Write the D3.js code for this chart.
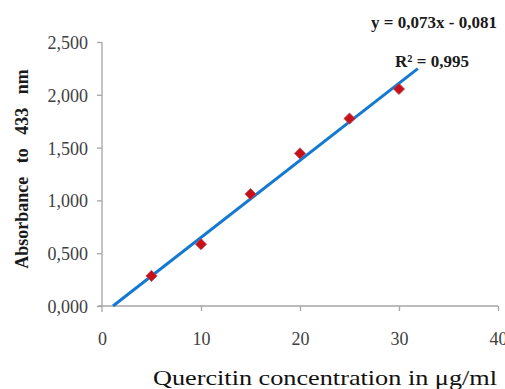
<!doctype html>
<html lang="en">
<head>
<meta charset="utf-8" />
<title>Quercitin calibration</title>
<script src="https://cdnjs.cloudflare.com/ajax/libs/d3/7.8.5/d3.min.js"></script>
<style>
	body { margin: 0; background: #fff; }
	svg { display: block; font-family: "Liberation Serif", "DejaVu Serif", serif; }
	.axis path, .axis line { stroke: #a6a6a6; stroke-width: 1.3; }
	.axis text { fill: #404040; font-size: 18px; font-family: "Liberation Serif", serif; }
</style>
</head>
<body>
<svg width="505" height="389"></svg>
<script>
// measured points
var concentration = [5, 10, 15, 20, 25, 30];
var absorbance = [0.285, 0.585, 1.06, 1.445, 1.775, 2.055];

var xTicks = [0, 10, 20, 30, 40];
var yTicks = [0, 0.5, 1, 1.5, 2, 2.5];

// linear fit y = 0,073x - 0,081, drawn from y=0 up to x=31.9
var fitSlope = 0.073;
var fitIntercept = -0.081;
var fitRange = [1.11, 31.9];

var svg = d3.select("svg");

var x = d3.scaleLinear().domain([0, 40]).range([102, 498]);
var y = d3.scaleLinear().domain([0, 2.5]).range([306, 42]);

var comma = function (v) { return d3.format(".3f")(v).replace(".", ","); };

// y axis
var yAxis = svg.append("g")
	.attr("class", "axis")
	.attr("transform", "translate(" + x(0) + ",0)")
	.call(d3.axisLeft(y).tickValues(yTicks).tickFormat(comma).tickSize(5).tickSizeOuter(0).tickPadding(9));
yAxis.select(".domain").attr("d", "M0," + y(2.5) + "V" + (y(0) + 6));
yAxis.selectAll("text").attr("dy", "0.36em");

// x axis
var xAxis = svg.append("g")
	.attr("class", "axis")
	.attr("transform", "translate(0," + y(0) + ")")
	.call(d3.axisBottom(x).tickValues(xTicks).tickSize(5).tickSizeOuter(0).tickPadding(21));
xAxis.select(".domain").attr("d", "M" + (x(0) - 4) + ",0H" + x(40));
xAxis.selectAll(".tick").filter(function (d) { return d === 0; }).select("line").remove();

// trend line
svg.append("line")
	.attr("x1", x(fitRange[0]))
	.attr("y1", y(fitSlope * fitRange[0] + fitIntercept))
	.attr("x2", x(fitRange[1]))
	.attr("y2", y(fitSlope * fitRange[1] + fitIntercept))
	.style("stroke", "#1479d0")
	.style("stroke-width", 3);

// markers
svg.selectAll("path.pt")
	.data(concentration)
	.enter().append("path")
	.attr("class", "pt")
	.attr("d", d3.symbol().type(d3.symbolDiamond2).size(80))
	.attr("transform", function (d, i) { return "translate(" + x(d) + "," + y(absorbance[i]) + ")"; })
	.style("fill", "#c8101a")
	.style("stroke", "#b05060")
	.style("stroke-width", 0.8);

// equation
svg.append("text")
	.attr("x", 434).attr("y", 28)
	.attr("text-anchor", "middle")
	.style("font-weight", "bold").style("font-size", "17px")
	.style("fill", "#1a1a1a")
	.text("y = 0,073x - 0,081");

svg.append("text")
	.attr("x", 432).attr("y", 67)
	.attr("text-anchor", "middle")
	.style("font-weight", "bold").style("font-size", "17px")
	.style("fill", "#1a1a1a")
	.text("R² = 0,995");

// axis titles
svg.append("text")
	.attr("transform", "translate(28,169) rotate(-90)")
	.attr("text-anchor", "middle")
	.style("font-weight", "bold").style("font-size", "18px")
	.style("word-spacing", "9px")
	.style("fill", "#1a1a1a")
	.text("Absorbance to 433 nm");

svg.append("text")
	.attr("x", 325).attr("y", 385)
	.attr("text-anchor", "middle")
	.attr("textLength", 344)
	.attr("lengthAdjust", "spacingAndGlyphs")
	.style("font-size", "21px")
	.style("fill", "#111")
	.text("Quercitin concentration in μg/ml");
</script>
</body>
</html>
